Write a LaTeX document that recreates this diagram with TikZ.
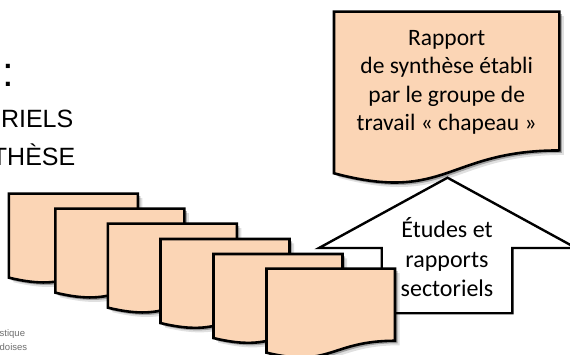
\documentclass[tikz,border=0pt]{standalone}
\usepackage{fontspec}
\setmainfont{Carlito}
\newfontfamily\arialf{Liberation Sans}
\definecolor{docfill}{HTML}{FBD5B5}
\definecolor{logogray}{HTML}{6E6E6E}
\tikzset{
  docline/.style={draw=black, line width=2.6pt, fill=docfill, line join=miter},
  docshadowa/.style={fill=black, opacity=0.28},
  docshadowb/.style={fill=black, opacity=0.12},
  arrowline/.style={draw=black, line width=2.4pt, fill=white, line join=miter},
  bodytext/.style={font=\fontsize{23.5}{28.4}\selectfont, align=center, inner sep=0pt},
  slidetext/.style={font=\arialf\fontsize{25}{30}\selectfont, inner sep=0pt, anchor=base east},
  logotext/.style={font=\arialf\fontsize{9.5}{11}\selectfont, text=logogray, inner sep=0pt, anchor=base west},
}
\newcommand{\docoutline}[3]{% dx dy w h via #1 offset, #2 w, #3 h
  (#1,#1) -- ({#2+#1},#1) -- ({#2+#1},{0.802*#3+#1})
  .. controls ({#2/2+#1},{0.802*#3+#1}) and ({#2/2+#1},{1.1075*#3+#1}) .. (#1,{0.934*#3+#1}) -- cycle}
\newcommand{\drawdoc}[4]{%
  \begin{scope}[shift={(#1,#2)}]
    \fill[docshadowb] (4.5,4.5) -- ({#3+4.5},4.5) -- ({#3+4.5},{0.802*#4+4.5})
      .. controls ({#3/2+4.5},{0.802*#4+4.5}) and ({#3/2+4.5},{1.1075*#4+4.5}) .. (4.5,{0.934*#4+4.5}) -- cycle;
    \fill[docshadowa] (2.5,2.5) -- ({#3+2.5},2.5) -- ({#3+2.5},{0.802*#4+2.5})
      .. controls ({#3/2+2.5},{0.802*#4+2.5}) and ({#3/2+2.5},{1.1075*#4+2.5}) .. (2.5,{0.934*#4+2.5}) -- cycle;
    \draw[docline] (0,0) -- (#3,0) -- (#3,{0.802*#4})
      .. controls ({#3/2},{0.802*#4}) and ({#3/2},{1.1075*#4}) .. (0,{0.934*#4}) -- cycle;
  \end{scope}}
\begin{document}
\begin{tikzpicture}[x=1pt,y=-1pt]
\useasboundingbox (0,0) rectangle (570,355);

% cropped slide texts on the left
\node[font=\arialf\fontsize{42}{48}\selectfont, inner sep=0pt, anchor=base east] (ttl) at (14,86.7) {L:};
\node[slidetext] (sect) at (73.5,127.3) {RIELS};
\node[slidetext] (synt) at (75.5,166) {THÈSE};
\node[logotext] (logo1) at (-0.5,336.5) {stique};
\node[logotext] (logo2) at (-0.5,350) {doises};

% up arrow (behind the documents)
\draw[arrowline] (447.5,177.7) -- (576,248) -- (512.3,248) -- (512.3,313.2)
  -- (381.7,313.2) -- (381.7,248) -- (319,248) -- cycle;
\node[bodytext, font=\fontsize{24}{29.5}\selectfont] (etudes) at (447,257.5)
  {Études et\\rapports\\sectoriels};

% big report document
\drawdoc{334}{11.7}{225.3}{173}
\node[bodytext] (rapport) at (446.7,82.5)
  {Rapport\\de synthèse établi\\par le groupe de\\travail « chapeau »};

% stack of sector documents
\drawdoc{8.8}{193.6}{129}{90}
\drawdoc{55.3}{208.6}{129}{90}
\drawdoc{107.8}{223.6}{129}{90}
\drawdoc{160.5}{239}{129}{90}
\drawdoc{213.5}{254}{129}{90}
\drawdoc{266.5}{268.6}{128.5}{90}
\end{tikzpicture}
\end{document}
